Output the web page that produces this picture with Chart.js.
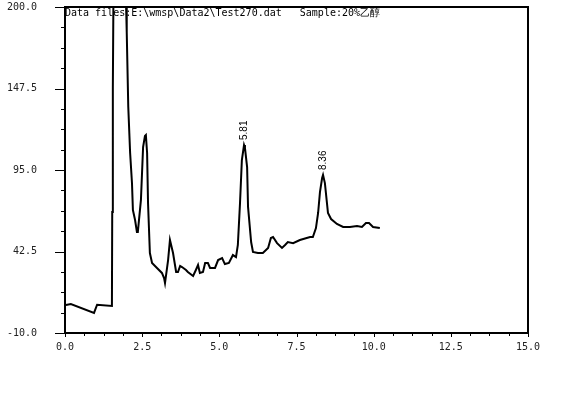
<!DOCTYPE html>
<html>
<head>
<meta charset="utf-8">
<script src="https://cdn.jsdelivr.net/npm/chart.js@4.4.1/dist/chart.umd.min.js"></script>
<style>
  body { margin: 0; background: #fff; }
  #wrap { width: 579px; height: 409px; }
</style>
</head>
<body>
<div id="wrap"><canvas id="chromChart"></canvas></div>
<script>
// Retention time (min) and detector signal
const retentionTimes = [
  0.03, 0.19, 0.94, 1.04, 1.52, 1.53, 1.55, 1.58, 1.75, 1.96, 1.98, 2.0, 2.05, 2.11,
  2.17, 2.2, 2.27, 2.33, 2.36, 2.46, 2.53, 2.59, 2.62, 2.66, 2.69, 2.75, 2.82, 2.98,
  3.14, 3.21, 3.24, 3.34, 3.4, 3.5, 3.6, 3.66, 3.73, 3.79, 3.92, 3.98, 4.15, 4.24,
  4.31, 4.37, 4.47, 4.54, 4.63, 4.7, 4.86, 4.96, 5.09, 5.18, 5.31, 5.44, 5.54, 5.6,
  5.67, 5.73, 5.8, 5.83, 5.9, 5.93, 6.03, 6.09, 6.25, 6.41, 6.58, 6.67, 6.74, 6.87,
  7.03, 7.13, 7.22, 7.39, 7.61, 7.94, 8.03, 8.13, 8.2, 8.26, 8.33, 8.36, 8.42, 8.52,
  8.62, 8.81, 9.01, 9.23, 9.46, 9.62, 9.75, 9.85, 9.98, 10.2
];
const signal = [
  8.0, 8.7, 2.9, 8.2, 7.4, 68.0, 147.8, 240, 280, 235, 200, 183.9, 135.6, 106,
  86.6, 69.2, 62.8, 55.1, 55.1, 75.7, 109.8, 116.9, 117.5, 106, 73.7, 41.5, 35.1, 31.9,
  28.7, 25.4, 22.2, 37.0, 49.9, 41.5, 29.3, 29.3, 33.2, 32.5, 30.6, 29.3, 26.7, 30.6,
  33.8, 28.7, 29.3, 35.1, 35.1, 31.9, 31.9, 37.0, 38.3, 34.4, 35.1, 40.2, 38.9, 46.7,
  73.7, 101.4, 111.1, 109.2, 96.9, 71.2, 48.6, 42.2, 41.5, 41.5, 44.8, 51.2, 51.8, 47.9,
  44.8, 46.7, 48.6, 47.9, 49.9, 51.8, 51.8, 57.6, 67.3, 80.8, 89.8, 91.8, 86.6, 67.3,
  63.4, 60.2, 58.3, 58.3, 58.9, 58.3, 60.8, 60.8, 58.3, 57.6
];

// Annotated peaks
const peakTimes = [5.81, 8.36];
const peakHeights = [111.1, 91.8];

// Axis ticks
const xTicks = [0, 2.5, 5, 7.5, 10, 12.5, 15];
const yTicks = [-10, 42.5, 95, 147.5, 200];
const xMinorStep = 0.625;
const yMinorStep = 13.125;

const headerText = "Data files:E:\\wmsp\\Data2\\Test270.dat   Sample:20%乙醇";
const monoFont = '"DejaVu Sans Mono", "Liberation Mono", monospace';

// Frame, minor/major tick marks, header and peak labels
const decorPlugin = {
  id: "decor",
  afterDraw(chart) {
    const { ctx, chartArea: a, scales } = chart;
    const xs = scales.x, ys = scales.y;
    ctx.save();
    ctx.strokeStyle = "#000";
    ctx.lineWidth = 2;
    ctx.strokeRect(a.left, a.top, a.right - a.left, a.bottom - a.top);

    ctx.lineWidth = 1;
    ctx.beginPath();
    for (let v = -10; v <= 200.001; v += yMinorStep) {
      const py = Math.round(ys.getPixelForValue(v)) + 0.5;
      const major = yTicks.some((t) => Math.abs(t - v) < 0.01);
      ctx.moveTo(a.left - (major ? 10 : 4), py);
      ctx.lineTo(a.left, py);
    }
    for (let v = 0; v <= 15.001; v += xMinorStep) {
      const px = Math.round(xs.getPixelForValue(v)) + 0.5;
      const major = xTicks.some((t) => Math.abs(t - v) < 0.01);
      ctx.moveTo(px, a.bottom);
      ctx.lineTo(px, a.bottom + (major ? 4 : 3));
    }
    ctx.stroke();

    ctx.fillStyle = "#000";
    ctx.font = "10px " + monoFont;
    ctx.textAlign = "left";
    ctx.textBaseline = "middle";
    ctx.fillText(headerText, a.left, 13);

    peakTimes.forEach((t, i) => {
      const px = xs.getPixelForValue(t);
      const py = ys.getPixelForValue(peakHeights[i]) - 5;
      ctx.save();
      ctx.translate(px, py);
      ctx.rotate(-Math.PI / 2);
      ctx.font = '10px "Liberation Sans", Arial, sans-serif';
      ctx.textAlign = "left";
      ctx.textBaseline = "middle";
      ctx.fillText(t.toFixed(2), 0, 0);
      ctx.restore();
    });
    ctx.restore();
  },
};

new Chart(document.getElementById("chromChart"), {
  type: "line",
  data: {
    datasets: [
      {
        data: retentionTimes.map((t, i) => ({ x: t, y: signal[i] })),
        borderColor: "#000",
        borderWidth: 2,
        pointRadius: 0,
        tension: 0,
        fill: false,
      },
    ],
  },
  options: {
    responsive: true,
    maintainAspectRatio: false,
    animation: false,
    layout: { padding: { left: 0, top: 7, right: 51, bottom: 0 } },
    plugins: { legend: { display: false }, tooltip: { enabled: false } },
    scales: {
      x: {
        type: "linear",
        min: 0,
        max: 15,
        afterBuildTicks: (s) => { s.ticks = xTicks.map((v) => ({ value: v })); },
        afterFit: (s) => { s.height = 76; },
        grid: { display: true, drawOnChartArea: false, drawTicks: true, tickLength: 8, tickColor: "rgba(0,0,0,0)" },
        border: { display: false },
        ticks: {
          padding: 0,
          color: "#222",
          font: { family: monoFont, size: 10 },
          maxRotation: 0,
          callback: (v) => Number(v).toFixed(1),
        },
      },
      y: {
        min: -10,
        max: 200,
        afterBuildTicks: (s) => { s.ticks = yTicks.map((v) => ({ value: v })); },
        afterFit: (s) => { s.width = 65; },
        grid: { display: true, drawOnChartArea: false, drawTicks: true, tickLength: 28, tickColor: "rgba(0,0,0,0)" },
        border: { display: false },
        ticks: {
          padding: 0,
          color: "#222",
          font: { family: monoFont, size: 10 },
          callback: (v) => Number(v).toFixed(1),
        },
      },
    },
  },
  plugins: [decorPlugin],
});
</script>
</body>
</html>
